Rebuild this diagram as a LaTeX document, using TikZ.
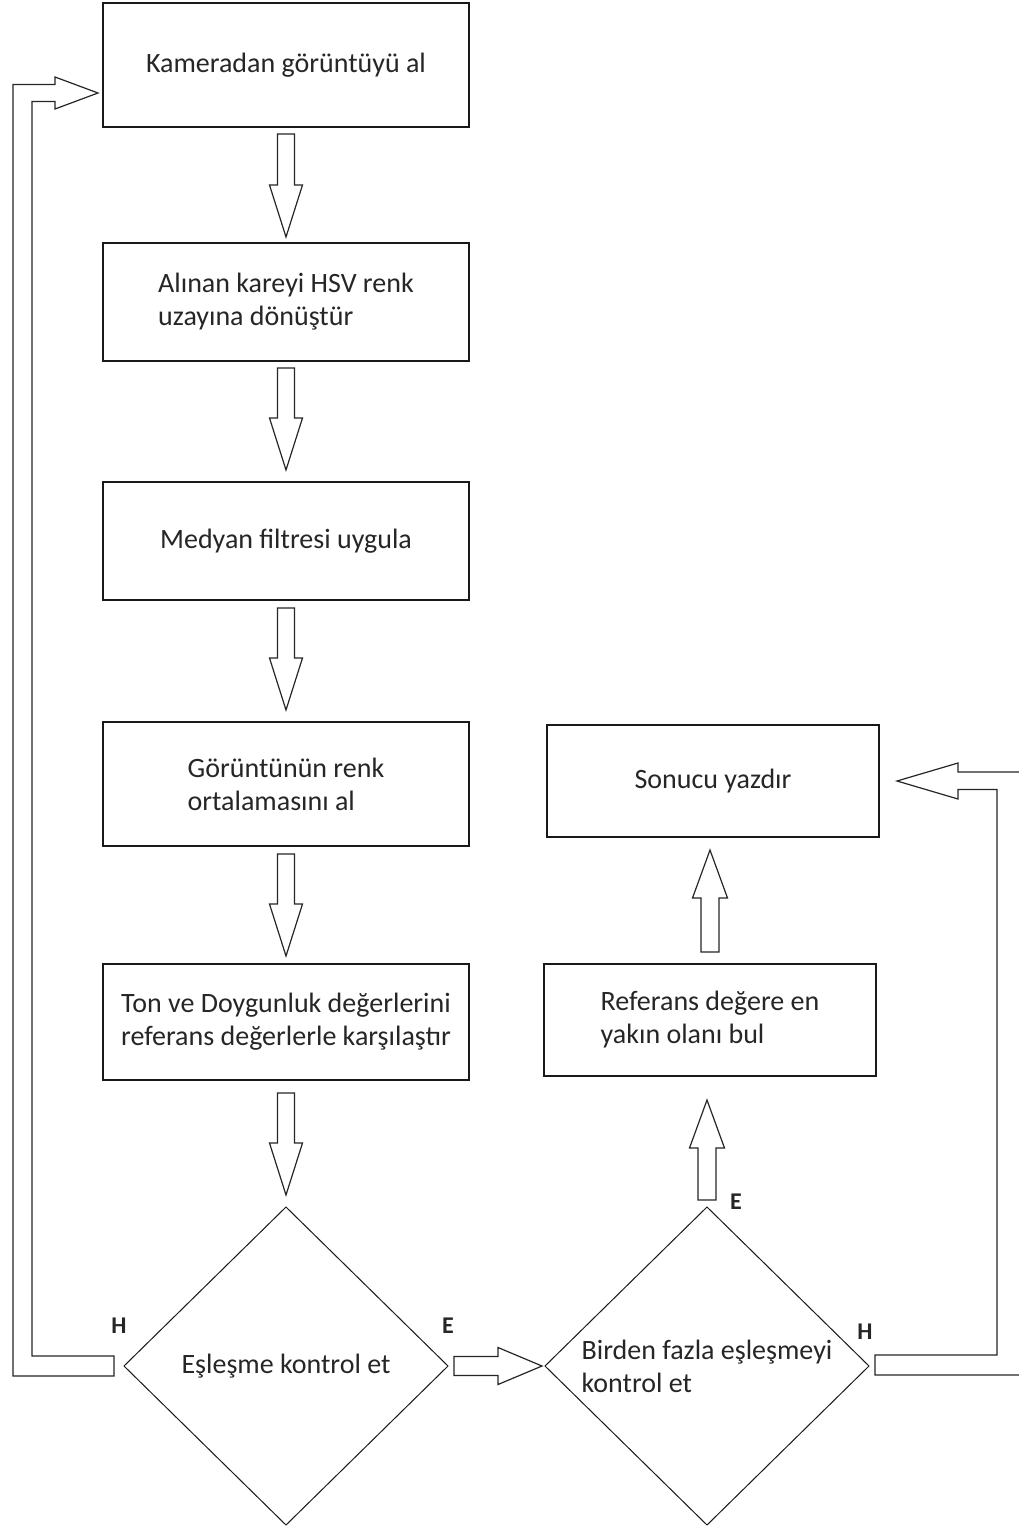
\documentclass[tikz,border=0pt]{standalone}
\usepackage{fontspec}
\setmainfont{Carlito}
\usepackage{tikz}
\usetikzlibrary{positioning,calc,shapes.geometric}

\newcommand{\blokok}[5]{%
  \coordinate (bs) at #1;
  \coordinate (be) at #2;
  \coordinate (bh) at ($(be)!#5!(bs)$);
  \draw[okkenar] ($(bs)!#3!90:(be)$) -- ($(bh)!#3!90:(be)$) -- ($(bh)!#4!90:(be)$) -- (be)
    -- ($(bh)!#4!-90:(be)$) -- ($(bh)!#3!-90:(be)$) -- ($(bs)!#3!-90:(be)$) -- cycle;
}

\begin{document}
\begin{tikzpicture}[x=1pt,y=-1pt,
  kutu/.style={draw=black!90, line width=1.3pt, outer sep=0pt, minimum width=366pt, minimum height=118pt,
    font=\fontsize{28}{33}\selectfont, text=black!85, align=left},
  sagkutu/.style={kutu, minimum width=332pt, minimum height=112pt},
  karar/.style={draw=black!90, line width=1pt, outer sep=0pt, diamond, inner sep=-50pt, minimum width=324pt,
    minimum height=318pt, font=\fontsize{28}{33}\selectfont, text=black!85, align=left},
  okkenar/.style={draw=black!85, line width=1.2pt, fill=white, line join=miter},
  etiket/.style={font=\fontsize{24}{28}\selectfont\bfseries, text=black!85}]

  \fill[white] (0,0) rectangle (1019,1528);
  \useasboundingbox (0,0) rectangle (1019,1528);

  \node[kutu] (cam) [minimum height=124pt] at (286,65) {Kameradan görüntüyü al};
  \node[kutu] (hsv) [below=116pt of cam] {Alınan kareyi HSV renk\\uzayına dönüştür};
  \node[kutu] (med) [below=121pt of hsv] {Medyan filtresi uygula};
  \node[kutu] (ort) [minimum height=124pt, below=122pt of med] {Görüntünün renk\\ortalamasını al};
  \node[kutu] (ton) [minimum height=116pt, below=118pt of ort, align=center] {Ton ve Doygunluk değerlerini\\referans değerlerle karşılaştır};

  \node[karar] (esl) [below=127pt of ton] {Eşleşme kontrol et};
  \node[karar] (bir) [right=97pt of esl] {Birden fazla eşleşmeyi\\kontrol et};

  \node[sagkutu] (ref) [above=131pt of bir, xshift=3pt] {Referans değere en\\yakın olanı bul};
  \node[sagkutu] (son) [above=127pt of ref, xshift=3pt] {Sonucu yazdır};

  \node[etiket] (h1) at ([shift={(-5,-40)}]esl.west) {H};
  \node[etiket] (e1) at ([shift={(0,-40)}]esl.east) {E};
  \node[etiket] (e2) at ([shift={(29,-5)}]bir.north) {E};
  \node[etiket] (h2) at ([shift={(-4,-34)}]bir.east) {H};

  \blokok{([yshift=-7pt]cam.south)}{([yshift=6pt]hsv.north)}{8.5pt}{16.5pt}{52pt}
  \blokok{([yshift=-7pt]hsv.south)}{([yshift=12pt]med.north)}{8.5pt}{16.5pt}{52pt}
  \blokok{([yshift=-8pt]med.south)}{([yshift=12pt]ort.north)}{8.5pt}{16.5pt}{52pt}
  \blokok{([yshift=-8pt]ort.south)}{([yshift=8pt]ton.north)}{8.5pt}{16.5pt}{52pt}
  \blokok{([yshift=-13pt]ton.south)}{([yshift=12pt]esl.north)}{8.5pt}{16.5pt}{52pt}

  \blokok{([xshift=6pt]esl.east)}{([xshift=-3pt]bir.west)}{9.5pt}{18.5pt}{44pt}
  \blokok{([yshift=7pt]bir.north)}{([yshift=-24pt]bir.north |- ref.south)}{9pt}{17.5pt}{48pt}
  \blokok{([yshift=12pt]ref.north)}{([yshift=-13pt]ref.north |- son.south)}{9pt}{17.5pt}{48pt}

  \coordinate (hs) at ([xshift=-10pt]esl.west);
  \coordinate (ht) at ([shift={(-5,28)}]cam.west);
  \draw[okkenar] ($(hs)+(0,10)$) -| ($(ht)+(-85,-8.5)$) -- ($(ht)+(-43,-8.5)$) -- ($(ht)+(-43,-16)$)
    -- (ht) -- ($(ht)+(-43,16)$) -- ($(ht)+(-43,8.5)$) -- ($(ht)+(-66,8.5)$) |- ($(hs)+(0,-10)$) -- cycle;

  \coordinate (hs2) at ([xshift=6pt]bir.east);
  \coordinate (ht2) at ([xshift=18pt]son.east);
  \draw[okkenar] ($(hs2)+(0,-11)$) -| ($(ht2)+(100,8.5)$) -- ($(ht2)+(61,8.5)$) -- ($(ht2)+(61,18)$)
    -- (ht2) -- ($(ht2)+(61,-18)$) -- ($(ht2)+(61,-9)$) -- ($(ht2)+(125,-9)$) |- ($(hs2)+(0,9)$) -- cycle;

\end{tikzpicture}
\end{document}
